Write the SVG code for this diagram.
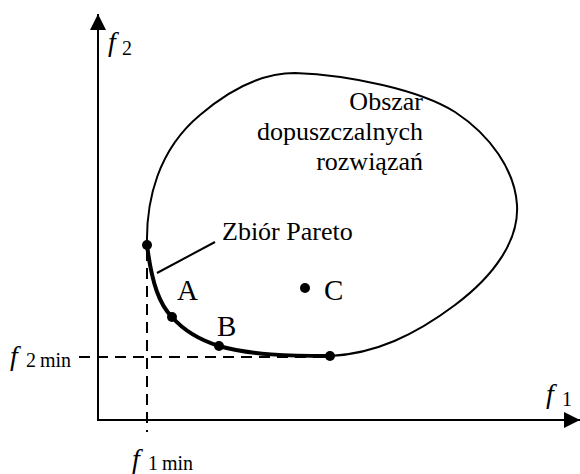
<svg xmlns="http://www.w3.org/2000/svg" width="580" height="474" viewBox="0 0 580 474" font-family="'Liberation Serif', 'Times New Roman', 'DejaVu Serif', serif">
<defs>
<style>
.it{font-style:italic}
.axis{stroke:#000;stroke-width:2;fill:none}
.dash{stroke:#000;stroke-width:2;fill:none;stroke-dasharray:11,7}
.dot{fill:#000}
</style>
<marker id="ah" viewBox="0 0 16 16" refX="16" refY="8" markerWidth="16" markerHeight="16" markerUnits="userSpaceOnUse" orient="auto">
<path d="M0,0 L16,8 L0,16 Z" fill="#000"/>
</marker>
</defs>
<g id="connectors">
<line class="axis" x1="98" y1="420" x2="98" y2="14" marker-end="url(#ah)"/>
<line class="axis" x1="97" y1="420" x2="580" y2="420" marker-end="url(#ah)"/>
<line class="dash" x1="147" y1="250" x2="147" y2="432"/>
<line class="dash" x1="79" y1="357" x2="330" y2="357"/>
<line x1="157" y1="273" x2="215" y2="242" stroke="#000" stroke-width="2"/>
</g>
<g id="region">
<path d="M147,245 C146,200 158,150 200,115 C235,85 265,73 295,73 C350,75 420,90 455,112 C490,135 515,170 517,205 C519,240 495,275 455,305 C415,335 375,354 330,356" fill="none" stroke="#000" stroke-width="2"/>
<text x="423" y="110" font-size="26" text-anchor="end">Obszar</text>
<text x="423" y="140" font-size="26" text-anchor="end">dopuszczalnych</text>
<text x="423" y="170" font-size="26" text-anchor="end">rozwiązań</text>
</g>
<g id="pareto">
<path d="M147,245 C152,285 160,305 172,317 C185,332 200,340 219,346 C250,355 290,356 330,356" fill="none" stroke="#000" stroke-width="4"/>
<circle class="dot" cx="147" cy="245" r="5"/>
<circle class="dot" cx="172" cy="317" r="5"/>
<circle class="dot" cx="219" cy="346" r="5"/>
<circle class="dot" cx="330" cy="356" r="5"/>
<text x="222" y="240" font-size="26">Zbiór Pareto</text>
</g>
<g id="pointA"><text x="177" y="300" font-size="29">A</text></g>
<g id="pointB"><text x="217" y="336" font-size="29">B</text></g>
<g id="pointC">
<circle class="dot" cx="305" cy="288" r="5"/>
<text x="324" y="300" font-size="29">C</text>
</g>
<g id="labels">
<text x="108" y="51" font-size="28" class="it">f</text>
<text x="122" y="55" font-size="20">2</text>
<text x="546" y="403" font-size="28" class="it">f</text>
<text x="562" y="406" font-size="20">1</text>
<text x="10" y="365" font-size="28" class="it">f</text>
<text x="26" y="367" font-size="20">2</text>
<text x="40" y="367" font-size="20">min</text>
<text x="132" y="468" font-size="28" class="it">f</text>
<text x="148" y="470" font-size="20">1</text>
<text x="162" y="470" font-size="20">min</text>
</g>
</svg>
